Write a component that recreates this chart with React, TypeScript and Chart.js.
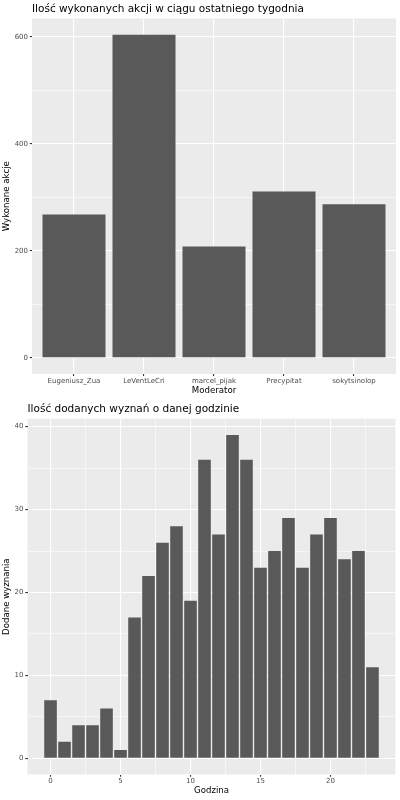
import { useEffect, useRef } from "react";
import { Chart, registerables } from "chart.js";

Chart.register(...registerables);

// ---- data ----
const moderators = ["Eugeniusz_Zua", "LeVentLeCri", "marcel_pijak", "Precypitat", "sokytsinolop"];
const actions = [268, 604, 208, 311, 287];
const actionMajorTicks = [0, 200, 400, 600];
const actionMinorTicks = [100, 300, 500];

const hours = [0, 1, 2, 3, 4, 5, 6, 7, 8, 9, 10, 11, 12, 13, 14, 15, 16, 17, 18, 19, 20, 21, 22, 23];
const confessions = [7, 2, 4, 4, 6, 1, 17, 22, 26, 28, 19, 36, 27, 39, 36, 23, 25, 29, 23, 27, 29, 24, 25, 11];
const confessionMajorTicks = [0, 10, 20, 30, 40];
const confessionMinorTicks = [5, 15, 25, 35];
const hourMajorTicks = [0, 5, 10, 15, 20];
const hourMinorTicks = [2.5, 7.5, 12.5, 17.5, 22.5];

const FONT = "DejaVu Sans";
const PANEL = "#EBEBEB";
const BAR = "#595959";

type Spec = {
  title: string;
  xTitle: string;
  yTitle: string;
  points: { x: number; y: number }[];
  xMin: number;
  xMax: number;
  yMin: number;
  yMax: number;
  xMajor: number[];
  xMinor: number[];
  yMajor: number[];
  yMinor: number[];
  xLabel: (v: number) => string;
  padTop: number;
  padRight: number;
  yWidth: number;
  xHeight: number;
  xTickPad: number;
};

function buildChart(canvas: HTMLCanvasElement, s: Spec) {
  const minorSetX = new Set(s.xMinor);
  const minorSetY = new Set(s.yMinor);
  const gridFor = (minor: Set<number>) => ({
    display: true,
    drawOnChartArea: true,
    drawTicks: true,
    offset: false,
    color: "#FFFFFF",
    lineWidth: (c: any) => (c.tick && minor.has(c.tick.value) ? 0.55 : 1.1),
    tickColor: (c: any) => (c.tick && minor.has(c.tick.value) ? "rgba(0,0,0,0)" : "#333333"),
    tickWidth: 1.1,
    tickLength: 2.2,
  });
  const panelPlugin = {
    id: "panel",
    beforeDraw(chart: any) {
      const { ctx, chartArea } = chart;
      ctx.save();
      ctx.fillStyle = PANEL;
      ctx.fillRect(chartArea.left, chartArea.top, chartArea.right - chartArea.left, chartArea.bottom - chartArea.top);
      ctx.restore();
    },
    afterDraw(chart: any) {
      const { ctx, chartArea } = chart;
      ctx.save();
      ctx.font = `10.5px "${FONT}"`;
      ctx.fillStyle = "#000000";
      ctx.textAlign = "left";
      ctx.textBaseline = "alphabetic";
      ctx.fillText(s.title, chartArea.left, 12.4);
      ctx.restore();
    },
  };
  const allX = [...s.xMajor, ...s.xMinor].sort((a, b) => a - b);
  const allY = [...s.yMajor, ...s.yMinor].sort((a, b) => a - b);
  return new Chart(canvas, {
    type: "bar",
    data: {
      datasets: [
        {
          data: s.points,
          backgroundColor: BAR,
          borderWidth: 0,
          barPercentage: 0.9,
          categoryPercentage: 1,
        },
      ],
    },
    options: {
      responsive: false,
      animation: false,
      devicePixelRatio: 1,
      layout: { padding: { top: s.padTop, right: s.padRight, left: 0, bottom: 0 } },
      plugins: { legend: { display: false }, tooltip: { enabled: false }, title: { display: false } },
      scales: {
        x: {
          type: "linear",
          min: s.xMin,
          max: s.xMax,
          bounds: "data",
          offset: false,
          border: { display: false },
          grid: gridFor(minorSetX) as any,
          afterBuildTicks: (scale: any) => {
            scale.ticks = allX.map((v) => ({ value: v }));
          },
          afterFit: (scale: any) => {
            scale.height = s.xHeight;
          },
          ticks: {
            autoSkip: false,
            maxRotation: 0,
            minRotation: 0,
            padding: s.xTickPad,
            color: "#4D4D4D",
            font: { family: FONT, size: 7 },
            callback: (v: any) => (minorSetX.has(Number(v)) ? "" : s.xLabel(Number(v))),
          },
          title: {
            display: true,
            text: s.xTitle,
            color: "#000000",
            font: { family: FONT, size: 8.6 },
            padding: { top: 0, bottom: 4.1 },
          },
        },
        y: {
          type: "linear",
          min: s.yMin,
          max: s.yMax,
          bounds: "data",
          border: { display: false },
          grid: gridFor(minorSetY) as any,
          afterBuildTicks: (scale: any) => {
            scale.ticks = allY.map((v) => ({ value: v }));
          },
          afterFit: (scale: any) => {
            scale.width = s.yWidth;
          },
          ticks: {
            autoSkip: false,
            padding: 1.8,
            color: "#4D4D4D",
            font: { family: FONT, size: 7 },
            callback: (v: any) => (minorSetY.has(Number(v)) ? "" : String(v)),
          },
          title: {
            display: true,
            text: s.yTitle,
            color: "#000000",
            font: { family: FONT, size: 8.6 },
            padding: { top: 1.9, bottom: 0 },
          },
        },
      },
    } as any,
    plugins: [panelPlugin],
  });
}

export default function App() {
  const topRef = useRef<HTMLCanvasElement>(null);
  const bottomRef = useRef<HTMLCanvasElement>(null);

  useEffect(() => {
    Chart.defaults.font.family = FONT;
    const top = buildChart(topRef.current!, {
      title: "Ilość wykonanych akcji w ciągu ostatniego tygodnia",
      xTitle: "Moderator",
      yTitle: "Wykonane akcje",
      points: moderators.map((_, i) => ({ x: i + 1, y: actions[i] })),
      xMin: 0.4,
      xMax: 5.6,
      yMin: -30.2,
      yMax: 634.2,
      xMajor: moderators.map((_, i) => i + 1),
      xMinor: [],
      yMajor: actionMajorTicks,
      yMinor: actionMinorTicks,
      xLabel: (v) => moderators[Math.round(v) - 1] ?? "",
      padTop: 18.5,
      padRight: 4,
      yWidth: 32,
      xHeight: 26.1,
      xTickPad: 1,
    });
    const bottom = buildChart(bottomRef.current!, {
      title: "Ilość dodanych wyznań o danej godzinie",
      xTitle: "Godzina",
      yTitle: "Dodane wyznania",
      points: hours.map((h, i) => ({ x: h, y: confessions[i] })),
      xMin: -1.645,
      xMax: 24.645,
      yMin: -1.95,
      yMax: 40.95,
      xMajor: hourMajorTicks,
      xMinor: hourMinorTicks,
      yMajor: confessionMajorTicks,
      yMinor: confessionMinorTicks,
      xLabel: (v) => String(v),
      padTop: 18.8,
      padRight: 4.5,
      yWidth: 27.5,
      xHeight: 25.5,
      xTickPad: 0.5,
    });
    return () => {
      top.destroy();
      bottom.destroy();
    };
  }, []);

  return (
    <div style={{ position: "absolute", left: 0, top: 0, width: 400, height: 800, background: "#FFFFFF" }}>
      <div style={{ width: 400, height: 400 }}>
        <canvas ref={topRef} width={400} height={400} style={{ display: "block" }} />
      </div>
      <div style={{ width: 400, height: 400 }}>
        <canvas ref={bottomRef} width={400} height={400} style={{ display: "block" }} />
      </div>
    </div>
  );
}
